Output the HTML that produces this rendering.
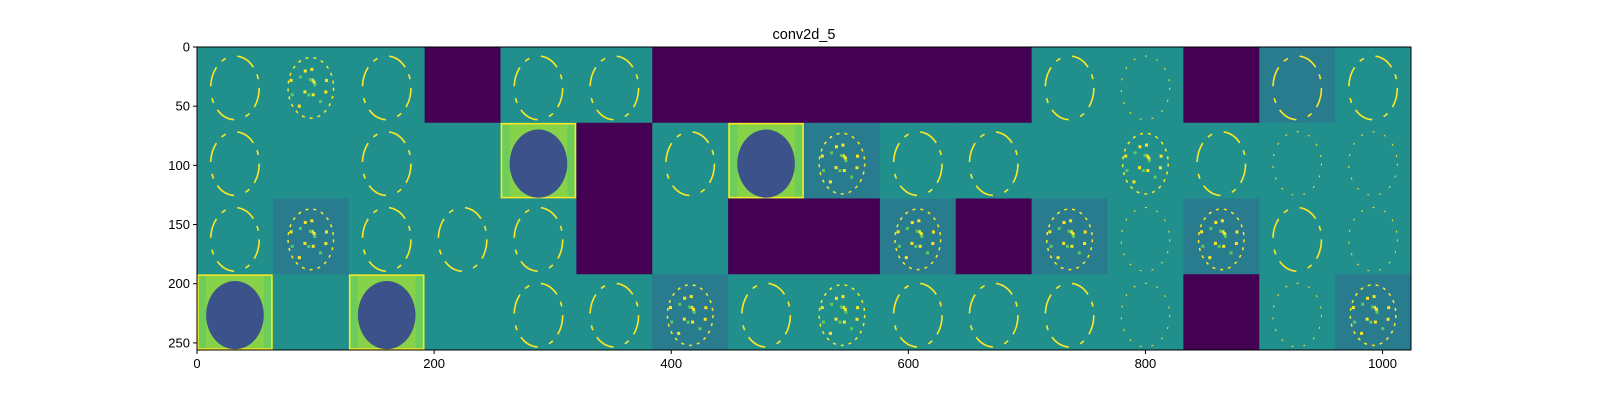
<!DOCTYPE html>
<html><head><meta charset="utf-8"><style>
body{margin:0;background:#fff;width:1600px;height:400px;overflow:hidden}
svg text{font-family:"Liberation Sans",sans-serif;fill:#000}
</style></head><body>
<svg id="chart" width="1600" height="400" viewBox="0 0 1600 400"></svg>
<script>
// tile grid (4 rows x 16 cols): P purple, T plain, E edge ring, S speckle, B brain, F faint
const rows = [
  "ESEPEEPPPPPEFPEE",
  "ETETBPEBSEETSEFF",
  "ESEEEPTPPSPSFSEF",
  "BTBTEESESEEEFPFS"
];
const darkTiles = [
  "0000000000000010",
  "0000000010000000",
  "0100000001010100",
  "0000001000000001"
];
const xTicks = [0,200,400,600,800,1000];
const yTicks = [0,50,100,150,200,250];
const title = "conv2d_5";

const NS="http://www.w3.org/2000/svg";
const svg=document.getElementById('chart');
const L=197,R=1411,T=47,B=350;
const xs=v=>L+(R-L)*v/1024, ys=v=>T+(B-T)*v/256;
function mk(tag,attrs,parent){const e=document.createElementNS(NS,tag);for(const k in attrs)e.setAttribute(k,attrs[k]);(parent||svg).appendChild(e);return e;}

const img=mk('g',{});


rows.forEach((row,r)=>{[...row].forEach((t,c)=>{
  const x0=xs(c*64),y0=ys(r*64),w=xs((c+1)*64)-x0,h=ys((r+1)*64)-y0;
  const cx=x0+w/2,cy=y0+h/2;
  const g=mk('g',{},img);
  
  
  const dark=darkTiles[r][c]==='1';
  let bg=t==='P'?'#440154':(dark?'#287c8e':'#21908d');
  if(t==='B')bg='#6ccd5a';
  mk('rect',{x:x0,y:y0,width:w+0.5,height:h+0.5,fill:bg},g);
  if(t==='E'){
    mk('ellipse',{cx:cx,cy:cy+3,rx:w*0.32,ry:h*0.42,fill:'none',stroke:'#fde725','stroke-width':1.6,'stroke-dasharray':'20 8 5 12'},g);
  } else if(t==='F'){
    mk('ellipse',{cx:cx,cy:cy+3,rx:w*0.32,ry:h*0.42,fill:'none',stroke:'#fde725','stroke-width':1,'stroke-dasharray':'2 10'},g);
  } else if(t==='S'){
    mk('ellipse',{cx:cx,cy:cy+3,rx:w*0.3,ry:h*0.4,fill:'none',stroke:'#fde725','stroke-width':1.5,'stroke-dasharray':'3 5'},g);
    for(let i=0;i<16;i++){const a=i*2.4,rr=(i%5+1)*4;
      mk('rect',{x:cx+Math.cos(a)*rr-1.5,y:cy+Math.sin(a)*rr*1.3-1.5,width:3,height:3,fill:i%3?'#fde725':'#5ec962'},g);}
  } else if(t==='B'){
    mk('rect',{x:x0+w*0.12,y:y0+2,width:w*0.76,height:h-4,fill:'#9fd938',opacity:0.5},g);
    mk('rect',{x:x0+1,y:y0+1,width:w-2,height:h-2,fill:'none',stroke:'#fde725','stroke-width':1.5},g);
    mk('ellipse',{cx:cx,cy:cy+3,rx:w*0.38,ry:h*0.45,fill:'#3b528b'},g);
  }
});});

mk('rect',{x:L,y:T,width:R-L,height:B-T,fill:'none',stroke:'#000','stroke-width':1});
xTicks.forEach(v=>{const x=xs(v);
  mk('line',{x1:x,y1:B,x2:x,y2:B+4,stroke:'#000'});
  const tx=mk('text',{x:x,y:B+18,'text-anchor':'middle','font-size':13});tx.textContent=v;
  
  
});
yTicks.forEach(v=>{const y=ys(v);
  mk('line',{x1:L-4,y1:y,x2:L,y2:y,stroke:'#000'});
  const tx=mk('text',{x:L-7,y:y+4.5,'text-anchor':'end','font-size':13});tx.textContent=v;
  
  
});
const tt=mk('text',{x:(L+R)/2,y:T-8,'text-anchor':'middle','font-size':14.5});tt.textContent=title;


</script>
</body></html>
